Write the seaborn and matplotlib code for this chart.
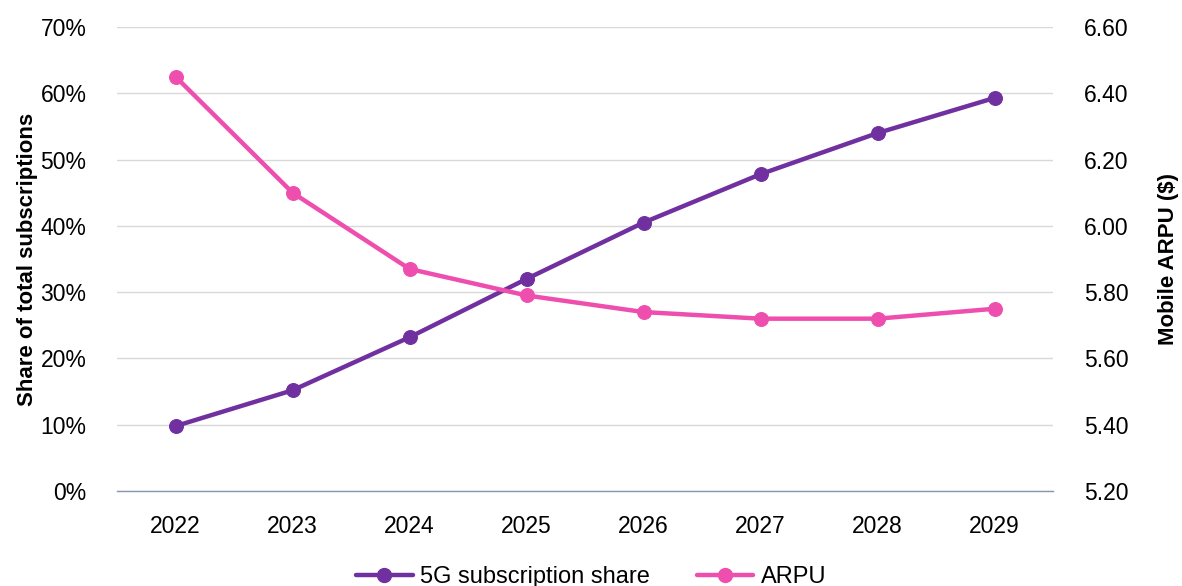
import matplotlib
matplotlib.use("Agg")
import matplotlib.pyplot as plt
import seaborn as sns
import pandas as pd
from matplotlib.ticker import FuncFormatter, MultipleLocator
from matplotlib.lines import Line2D

years = ["2022", "2023", "2024", "2025", "2026", "2027", "2028", "2029"]
share_5g = [9.8, 15.2, 23.2, 32.0, 40.5, 47.8, 54.0, 59.3]
arpu = [6.45, 6.10, 5.87, 5.79, 5.74, 5.72, 5.72, 5.75]

purple = "#7030A0"
pink = "#EE4FAF"

sns.set_theme(style="white")
plt.rcParams['font.family'] = ['Liberation Sans', 'DejaVu Sans']
plt.rcParams['text.color'] = 'black'
plt.rcParams['axes.labelcolor'] = 'black'

df = pd.DataFrame({"year": years, "share": share_5g, "arpu": arpu})
df["x"] = range(len(years))

fig = plt.figure(figsize=(11.82, 5.86), dpi=100)
ax = fig.add_axes([0.099, 0.162, 0.792, 0.792])
ax2 = ax.twinx()

sns.lineplot(data=df, x="x", y="share", ax=ax, color=purple, linewidth=3.2,
             marker="o", markersize=10, markeredgecolor=purple, zorder=3)
sns.lineplot(data=df, x="x", y="arpu", ax=ax2, color=pink, linewidth=3.2,
             marker="o", markersize=10, markeredgecolor=pink, zorder=3)

ax.set_xlim(-0.5, len(years) - 0.5)
ax.set_xticks(range(len(years)))
ax.set_xticklabels(years)
ax.set_ylim(0, 70)
ax.yaxis.set_major_locator(MultipleLocator(10))
ax.yaxis.set_major_formatter(FuncFormatter(lambda v, p: f"{v:.0f}%"))
ax2.set_ylim(5.2, 6.6)
ax2.set_yticks([5.2, 5.4, 5.6, 5.8, 6.0, 6.2, 6.4, 6.6])
ax2.yaxis.set_major_formatter(FuncFormatter(lambda v, p: f"{v:.2f}"))

ax.grid(axis="y", color="#D9D9D9", linewidth=1)
ax.set_axisbelow(True)
for a in (ax, ax2):
    for s in ["top", "left", "right", "bottom"]:
        a.spines[s].set_visible(False)
    a.tick_params(axis="both", length=0, labelsize=16.5, colors="#000000")
ax.spines["bottom"].set_visible(True)
ax.spines["bottom"].set_color("#8497B0")
ax.spines["bottom"].set_linewidth(1)
ax.tick_params(axis="x", pad=17)
ax.tick_params(axis="y", pad=22)
ax2.tick_params(axis="y", pad=22)

ax.set_xlabel("")
ax.set_ylabel("Share of total subscriptions", fontsize=16, fontweight="bold",
              labelpad=2, color="black")
ax2.set_ylabel("Mobile ARPU ($)", fontsize=16, fontweight="bold",
               labelpad=21, color="black")

handles = [
    Line2D([], [], color=purple, linewidth=3.2, marker="o", markersize=10),
    Line2D([], [], color=pink, linewidth=3.2, marker="o", markersize=10),
]
fig.legend(handles, ["5G subscription share", "ARPU"], loc="lower center",
           bbox_to_anchor=(0.5, -0.04), ncol=2, frameon=False, fontsize=17,
           handlelength=2.4, columnspacing=2.0, handletextpad=0.3)

fig.savefig("out.png", dpi=100)
